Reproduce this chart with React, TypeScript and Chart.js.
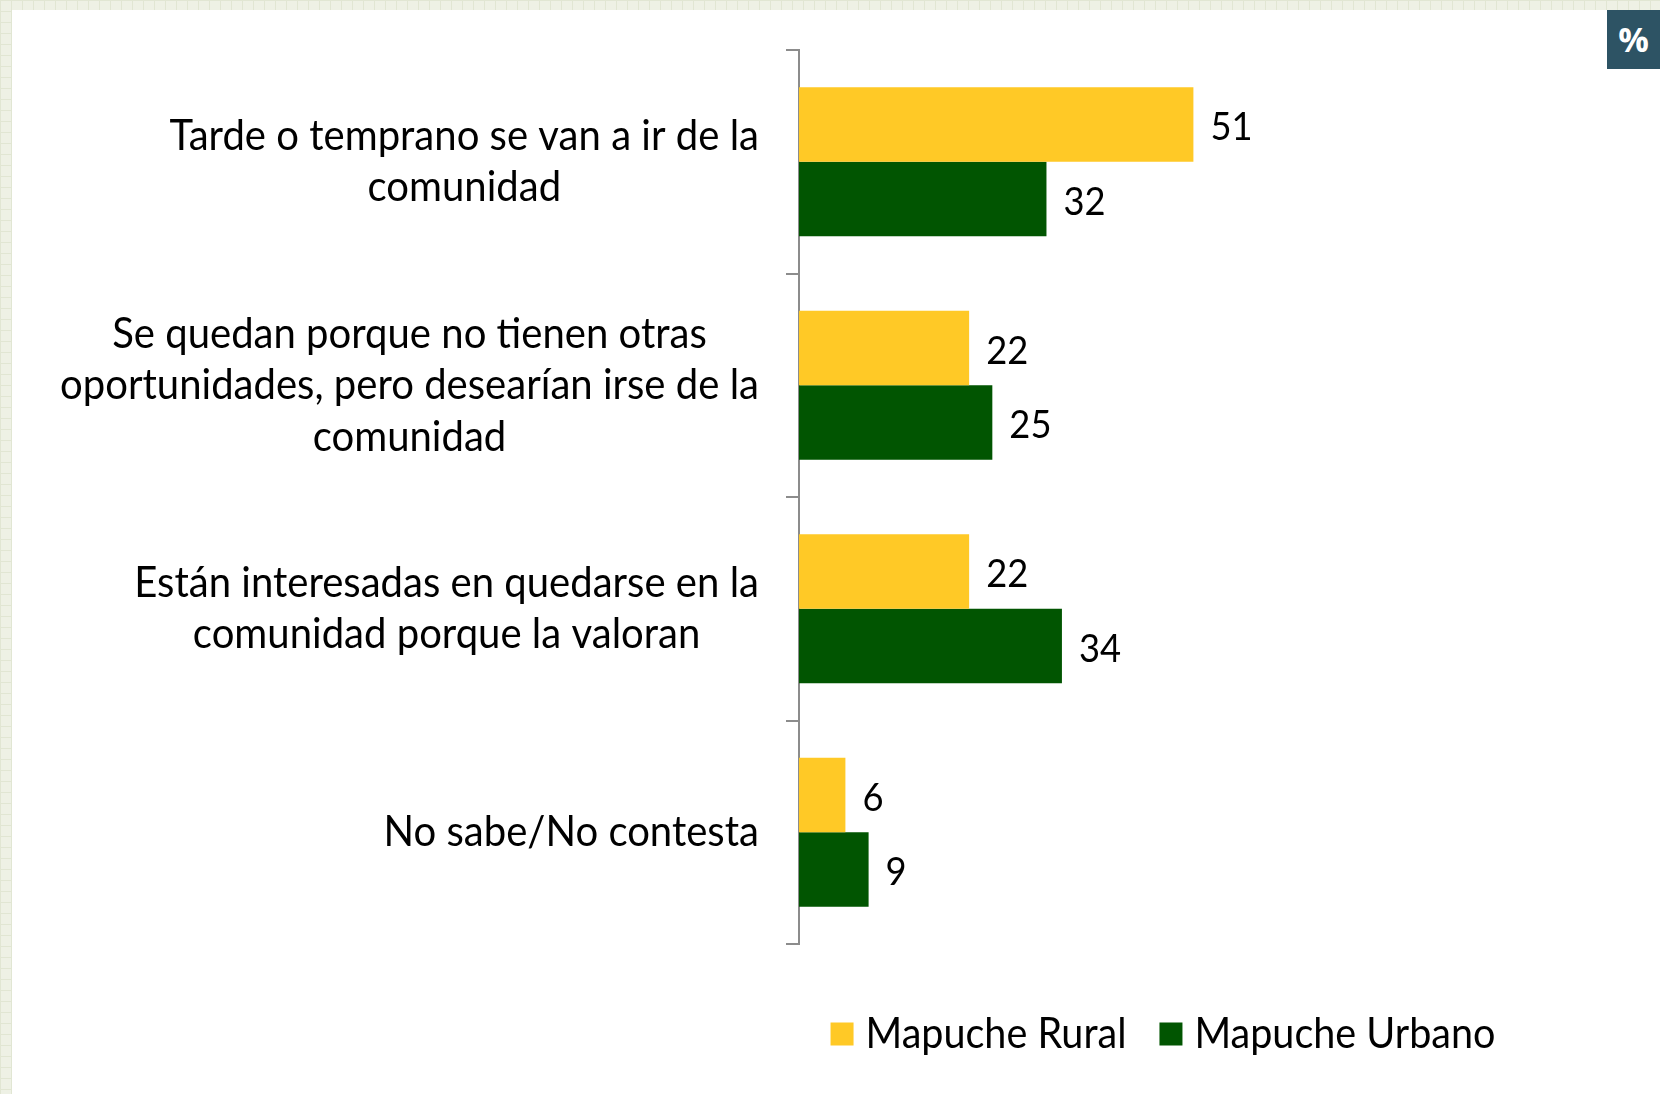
import React, { useEffect, useRef } from "react";
import { Chart, registerables } from "chart.js";

Chart.register(...registerables);

// ---------- data ----------
const categories: string[][] = [
  ["Tarde o temprano se van a ir de la", "comunidad"],
  ["Se quedan porque no tienen otras", "oportunidades, pero desearían irse de la", "comunidad"],
  ["Están interesadas en quedarse en la", "comunidad porque la valoran"],
  ["No sabe/No contesta"],
];
const seriesNames = ["Mapuche Rural", "Mapuche Urbano"];
const ruralValues = [51, 22, 22, 6];
const urbanValues = [32, 25, 34, 9];
const seriesColors = ["#FFC926", "#015501"];
const unitLabel = "%";

// ---------- styling ----------
const FONT = "Lato, 'Open Sans', sans-serif";
const CAT_FONT_SIZE = 43;
const CAT_LINE_GAP = 51.5;
const CAT_LONGEST_TARGET = 699; // width of the widest category line in px
const CAT_RIGHT_GAP = 40; // gap between label block and axis
const VAL_FONT_SIZE = 39;
const VAL_OFFSET = 17;
const LEG_FONT_SIZE = 42;
const LEG_TARGET = 301; // width of "Mapuche Urbano"
const LEG_CENTER_X = 1163;
const LEG_CENTER_Y = 1034;
const LEG_BOX = 23;

function scaledText(
  ctx: CanvasRenderingContext2D,
  text: string,
  x: number,
  y: number,
  sx: number,
  align: CanvasTextAlign
) {
  ctx.save();
  ctx.translate(x, y);
  ctx.scale(sx, 1);
  ctx.textAlign = align;
  ctx.textBaseline = "middle";
  ctx.fillText(text, 0, 0);
  ctx.restore();
}

const textPlugin = {
  id: "customText",
  afterDraw(chart: any) {
    const ctx: CanvasRenderingContext2D = chart.ctx;
    const yScale = chart.scales.y;
    const area = chart.chartArea;

    // category labels
    ctx.save();
    ctx.fillStyle = "#000000";
    ctx.font = `${CAT_FONT_SIZE}px ${FONT}`;
    let maxW = 0;
    categories.forEach((lines) =>
      lines.forEach((l) => {
        maxW = Math.max(maxW, ctx.measureText(l).width);
      })
    );
    const sx = CAT_LONGEST_TARGET / maxW;
    const rightEdge = area.left - CAT_RIGHT_GAP;
    categories.forEach((lines, i) => {
      const yc = yScale.getPixelForValue(i);
      const widths = lines.map((l) => ctx.measureText(l).width * sx);
      const blockW = Math.max(...widths);
      const cx = rightEdge - blockW / 2;
      lines.forEach((l, j) => {
        const y = yc + (j - (lines.length - 1) / 2) * CAT_LINE_GAP;
        scaledText(ctx, l, cx, y, sx, "center");
      });
    });

    // value labels
    ctx.font = `${VAL_FONT_SIZE}px ${FONT}`;
    chart.data.datasets.forEach((ds: any, d: number) => {
      const meta = chart.getDatasetMeta(d);
      meta.data.forEach((bar: any, i: number) => {
        scaledText(ctx, String(ds.data[i]), bar.x + VAL_OFFSET, bar.y + 3, sx, "left");
      });
    });

    // legend
    ctx.font = `${LEG_FONT_SIZE}px ${FONT}`;
    const lsx = LEG_TARGET / ctx.measureText(seriesNames[1]).width;
    const gapBoxText = 12;
    const gapItems = 33;
    const items = chart.data.datasets.map((ds: any) => ({
      label: ds.label,
      color: ds.backgroundColor,
      w: ctx.measureText(ds.label).width * lsx,
    }));
    let total = 0;
    items.forEach((it: any, k: number) => {
      total += LEG_BOX + gapBoxText + it.w + (k < items.length - 1 ? gapItems : 0);
    });
    let x = LEG_CENTER_X - total / 2;
    items.forEach((it: any) => {
      ctx.fillStyle = it.color;
      ctx.fillRect(x, LEG_CENTER_Y - LEG_BOX / 2, LEG_BOX, LEG_BOX);
      x += LEG_BOX + gapBoxText;
      ctx.fillStyle = "#000000";
      scaledText(ctx, it.label, x, LEG_CENTER_Y, lsx, "left");
      x += it.w + gapItems;
    });
    ctx.restore();
  },
};

export default function App() {
  const canvasRef = useRef<HTMLCanvasElement | null>(null);

  useEffect(() => {
    if (!canvasRef.current) return;
    const chart = new Chart(canvasRef.current, {
      type: "bar",
      data: {
        labels: categories,
        datasets: [
          {
            label: seriesNames[0],
            data: ruralValues,
            backgroundColor: seriesColors[0],
            barPercentage: 1,
            categoryPercentage: 0.667,
          },
          {
            label: seriesNames[1],
            data: urbanValues,
            backgroundColor: seriesColors[1],
            barPercentage: 1,
            categoryPercentage: 0.667,
          },
        ],
      },
      options: {
        indexAxis: "y",
        responsive: false,
        animation: false,
        layout: { padding: { left: 786, right: 397, top: 50, bottom: 150 } },
        plugins: {
          legend: { display: false },
          tooltip: { enabled: false },
        },
        scales: {
          x: { display: false, min: 0, max: 60 },
          y: {
            grid: {
              drawOnChartArea: false,
              drawTicks: true,
              tickLength: 13,
              color: "#8C8C8C",
              lineWidth: 2,
              offset: true,
            },
            border: { color: "#8C8C8C", width: 2 },
            ticks: { display: false },
            afterFit: (s: any) => {
              s.width = 13;
            },
          },
        },
      },
      plugins: [textPlugin],
    } as any);
    return () => chart.destroy();
  }, []);

  return (
    <div
      style={{
        position: "fixed",
        left: 0,
        top: 0,
        width: 1660,
        height: 1094,
        overflow: "hidden",
        backgroundColor: "#EEF1E5",
        backgroundImage:
          "linear-gradient(#E1E6D3 1px, transparent 1px), linear-gradient(90deg, #E1E6D3 1px, transparent 1px)",
        backgroundSize: "11px 11px",
      }}
    >
      <div
        style={{
          position: "absolute",
          left: 12,
          top: 10,
          right: 0,
          bottom: 0,
          background: "#FFFFFF",
        }}
      />
      <canvas
        ref={canvasRef}
        width={1660}
        height={1094}
        style={{ position: "absolute", left: 0, top: 0, width: 1660, height: 1094 }}
      />
      <div
        style={{
          position: "absolute",
          left: 1607,
          top: 10,
          width: 53,
          height: 59,
          background: "#2D5364",
          color: "#FFFFFF",
          fontFamily: "'Open Sans', Lato, sans-serif",
          fontWeight: 700,
          fontSize: 34,
          lineHeight: "59px",
          textAlign: "center",
        }}
      >
        {unitLabel}
      </div>
    </div>
  );
}
